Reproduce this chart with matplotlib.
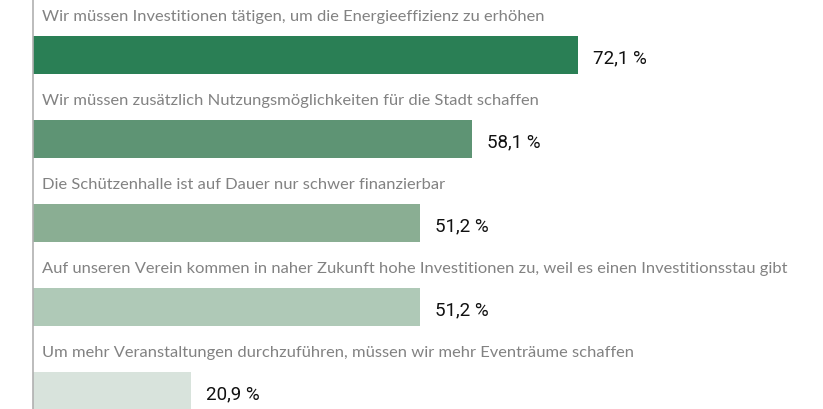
import matplotlib.pyplot as plt

statements = [
    "Wir müssen Investitionen tätigen, um die Energieeffizienz zu erhöhen",
    "Wir müssen zusätzlich Nutzungsmöglichkeiten für die Stadt schaffen",
    "Die Schützenhalle ist auf Dauer nur schwer finanzierbar",
    "Auf unseren Verein kommen in naher Zukunft hohe Investitionen zu, weil es einen Investitionsstau gibt",
    "Um mehr Veranstaltungen durchzuführen, müssen wir mehr Eventräume schaffen",
]
shares = [72.1, 58.1, 51.2, 51.2, 20.9]
value_labels = ["72,1 %", "58,1 %", "51,2 %", "51,2 %", "20,9 %"]
bar_colors = ["#2a7f55", "#5e9474", "#8aae93", "#afc9b7", "#d8e3dc"]

fig = plt.figure(figsize=(8.23, 4.10), dpi=100)
ax = fig.add_axes([33 / 823, 0, 756 / 823, 1])

pos = list(range(len(shares)))
ax.barh(pos, shares, height=0.45, color=bar_colors, zorder=2)

for i, (txt, v, lab) in enumerate(zip(statements, shares, value_labels)):
    ax.text(1.2, i - 0.465, txt, ha="left", va="center", fontsize=11.85,
            family="Lato", color="#828282")
    ax.text(v + 2.0, i + 0.03, lab, ha="left", va="center", fontsize=13.5,
            family="Roboto", color="#111111")

ax.set_xlim(0, 100)
ax.set_ylim(4.214, -0.667)
for s in ["top", "right", "bottom"]:
    ax.spines[s].set_visible(False)
ax.spines["left"].set_color("#b0b0b0")
ax.spines["left"].set_linewidth(1.2)
ax.set_xticks([])
ax.set_yticks([])

fig.savefig("out.png", dpi=100)
